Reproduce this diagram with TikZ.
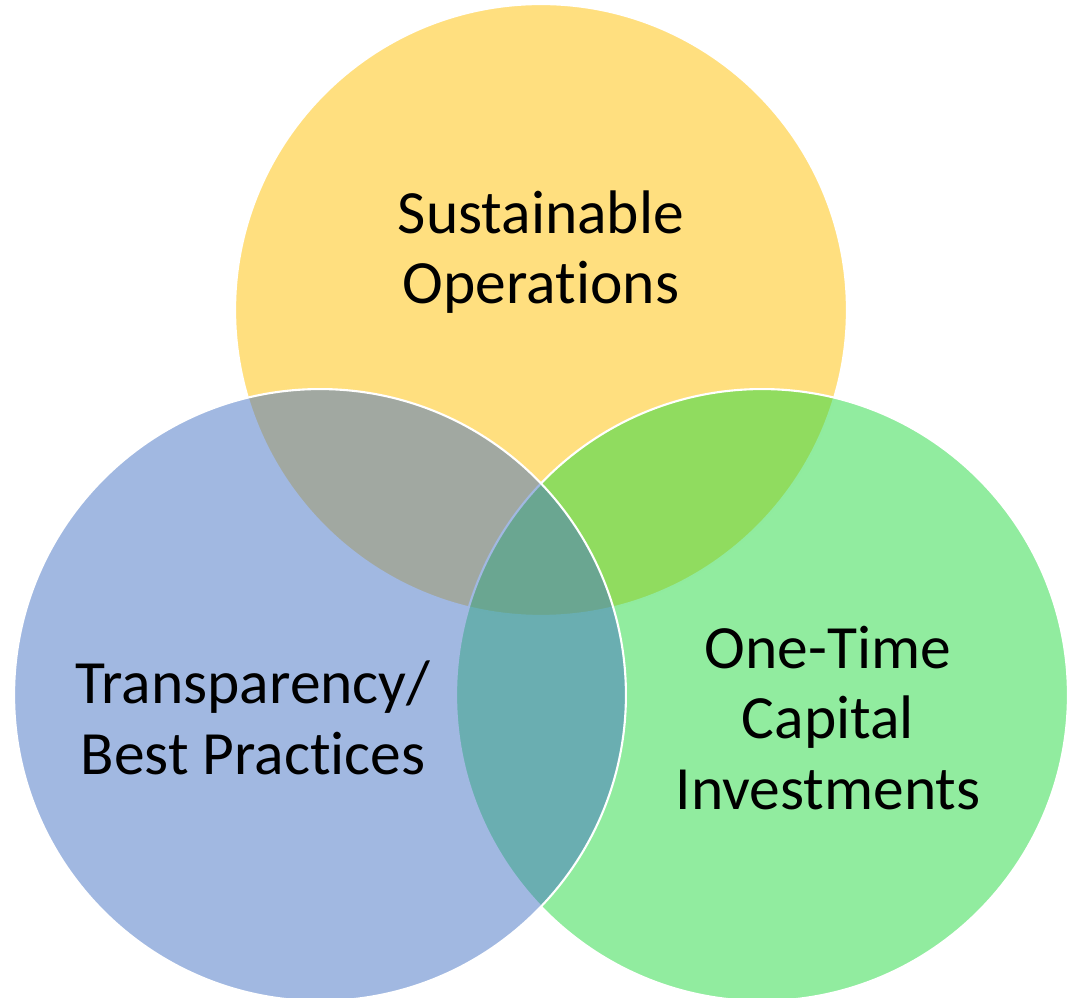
\documentclass[tikz,border=0pt]{standalone}
\usepackage{fontspec}
\setmainfont{Carlito}
\usepackage{xcolor}
\definecolor{opsyellow}{RGB}{255,192,0}
\definecolor{trblue}{RGB}{68,114,196}
\definecolor{capgreen}{RGB}{35,217,63}
\newcommand{\tibreak}{t\kern0pt i}

\begin{document}
\begin{tikzpicture}[
				x=0.02cm,y=0.02cm,
				venn/.style={circle,draw=white,line width=1.2pt,minimum size=12.24cm,inner sep=0pt,fill opacity=0.5,draw opacity=1},
				label/.style={align=center,font=\fontsize{35}{40}\selectfont,text=black}
				]
				\useasboundingbox (0,0) rectangle (1076,998);
				
				% Kreise
				\node[venn,fill=opsyellow] (ops) at (541,688) {};
				\node[venn,fill=capgreen] (cap) at (762,303) {};
				\node[venn,fill=trblue] (tr) at (320,303) {};
				
				% Beschriftungen
				\node[label] (opstext) at (541,746) {Sustainable\\Opera\tibreak ons};
				\node[label] (trtext) at (253,280) {Transparency/\\Best Prac\tibreak ces};
				\node[label] (captext) at (828,280) {One-Time\\Capital\\Investments};
				
			\end{tikzpicture}
\end{document}
